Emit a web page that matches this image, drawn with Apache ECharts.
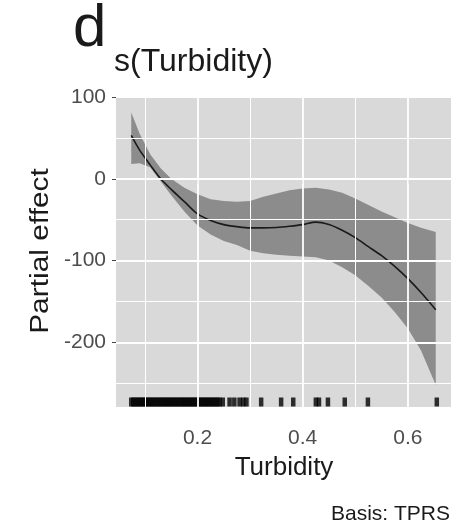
<!DOCTYPE html>
<html>
<head>
<meta charset="utf-8">
<script src="https://cdn.jsdelivr.net/npm/echarts@6/dist/echarts.min.js"></script>
<style>
html,body{margin:0;padding:0;background:#fff;}
#c{width:451px;height:529px;}
</style>
</head>
<body>
<div id="c"></div>
<script>
// Turbidity values along the smooth
const turbidity = [0.074, 0.09, 0.11, 0.13, 0.15, 0.175, 0.2, 0.225, 0.25, 0.275, 0.3, 0.325, 0.35, 0.375, 0.4, 0.425, 0.45, 0.475, 0.5, 0.525, 0.55, 0.575, 0.6, 0.625, 0.653];
// Partial effect (fit)
const fitValues = [53, 35, 17, 0, -13, -28, -43, -51, -56, -58.5, -60, -60, -59.5, -58, -56, -53, -56, -63, -72, -83, -94, -107, -122, -139, -160];
// Confidence band
const upperValues = [81, 55, 30, 13, 0, -11, -19, -25, -27, -28, -27, -22, -18, -14, -12, -11, -13, -17, -24, -32, -40, -47, -54, -60, -65];
const lowerValues = [18, 19, 14, -3, -20, -40, -57, -68, -76, -81, -88, -91, -93, -94, -95, -96, -100, -108, -118, -131, -145, -163, -183, -210, -252];
// Rug of observed turbidity
const rugValues = [0.074, 0.078, 0.082, 0.086, 0.09, 0.094, 0.098, 0.102, 0.106, 0.11, 0.114, 0.118, 0.122, 0.126, 0.13, 0.134, 0.138, 0.142, 0.146, 0.15, 0.154, 0.158, 0.162, 0.166, 0.17, 0.174, 0.178, 0.182, 0.186, 0.19, 0.194, 0.198, 0.202, 0.206, 0.21, 0.214, 0.218, 0.222, 0.226, 0.23, 0.234, 0.238, 0.242, 0.248, 0.261, 0.27, 0.28, 0.287, 0.293, 0.321, 0.359, 0.382, 0.425, 0.431, 0.448, 0.48, 0.524, 0.655];
// Axis ticks
const xTickValues = [0.2, 0.4, 0.6];
const yTickValues = [-200, -100, 0, 100];
const xMinorGrid = [0.1, 0.3, 0.5];
const yMinorGrid = [-250, -150, -50, 50];

const X_MIN = 0.045, X_MAX = 0.682, Y_MIN = -279, Y_MAX = 100;
const FONT = '"Liberation Sans", Arial, sans-serif';

const chart = echarts.init(document.getElementById('c'), null, {renderer: 'canvas'});

const gridLines = [];
xTickValues.forEach(v => gridLines.push({xAxis: v, lineStyle: {width: 1.8}}));
xMinorGrid.forEach(v => gridLines.push({xAxis: v, lineStyle: {width: 1}}));
yTickValues.forEach(v => gridLines.push({yAxis: v, lineStyle: {width: 1.8}}));
yMinorGrid.forEach(v => gridLines.push({yAxis: v, lineStyle: {width: 1}}));

const bandData = turbidity.map((x, i) => [x, upperValues[i], lowerValues[i]]);

chart.setOption({
  animation: false,
  grid: {left: 116, top: 97, width: 335, height: 310, show: true, backgroundColor: '#d9d9d9', borderWidth: 0},
  xAxis: {
    type: 'value', min: X_MIN, max: X_MAX,
    axisLine: {show: false},
    splitLine: {show: false},
    axisTick: {show: true, customValues: xTickValues, length: 5, lineStyle: {color: '#444', width: 1}},
    axisLabel: {customValues: xTickValues, fontSize: 21, fontFamily: FONT, color: '#4d4d4d', margin: 21,
      formatter: v => v.toFixed(1)}
  },
  yAxis: {
    type: 'value', min: Y_MIN, max: Y_MAX,
    axisLine: {show: false},
    splitLine: {show: false},
    axisTick: {show: true, customValues: yTickValues, length: 4, lineStyle: {color: '#444', width: 1}},
    axisLabel: {customValues: yTickValues, fontSize: 21, fontFamily: FONT, color: '#4d4d4d', margin: 10}
  },
  graphic: [
    {type: 'text', x: 73, y: 29, style: {text: 'd', font: '60px ' + FONT, fill: '#1a1a1a', align: 'left', verticalAlign: 'middle'}},
    {type: 'text', x: 114, y: 62, style: {text: 's(Turbidity)', font: '32px ' + FONT, fill: '#1a1a1a', align: 'left', verticalAlign: 'middle'}},
    {type: 'text', x: 284, y: 468, style: {text: 'Turbidity', font: '26px ' + FONT, fill: '#1a1a1a', align: 'center', verticalAlign: 'middle'}},
    {type: 'text', x: 41, y: 251, rotation: Math.PI / 2, scaleX: 1.15, style: {text: 'Partial effect', font: '26px ' + FONT, fill: '#1a1a1a', align: 'center', verticalAlign: 'middle'}},
    {type: 'text', x: 450, y: 514, style: {text: 'Basis: TPRS', font: '21px ' + FONT, fill: '#1a1a1a', align: 'right', verticalAlign: 'middle'}}
  ],
  series: [
    {
      type: 'line', z: 1, data: [[X_MIN, Y_MIN]], symbol: 'none', lineStyle: {opacity: 0}, silent: true,
      markLine: {silent: true, symbol: 'none', label: {show: false}, lineStyle: {color: '#ffffff', type: 'solid'}, data: gridLines, animation: false}
    },
    {
      type: 'custom', z: 2, data: bandData,
      renderItem: function (params, api) {
        if (params.dataIndex !== 0) return null;
        const pts = [];
        for (let i = 0; i < bandData.length; i++) pts.push(api.coord([bandData[i][0], bandData[i][1]]));
        for (let i = bandData.length - 1; i >= 0; i--) pts.push(api.coord([bandData[i][0], bandData[i][2]]));
        return {type: 'polygon', shape: {points: pts}, style: {fill: '#8c8c8c'}};
      },
      encode: {x: 0, y: 1}
    },
    {
      type: 'line', z: 3, data: turbidity.map((x, i) => [x, fitValues[i]]), symbol: 'none', smooth: 0.3,
      lineStyle: {color: '#1a1a1a', width: 1.6}
    },
    {
      type: 'scatter', z: 4, large: false, data: rugValues.map(x => [x, Y_MIN]), symbol: 'rect', symbolSize: [4.5, 9], symbolOffset: [0, -5],
      itemStyle: {color: '#000', borderWidth: 0}, silent: true
    }
  ]
});
</script>
</body>
</html>
